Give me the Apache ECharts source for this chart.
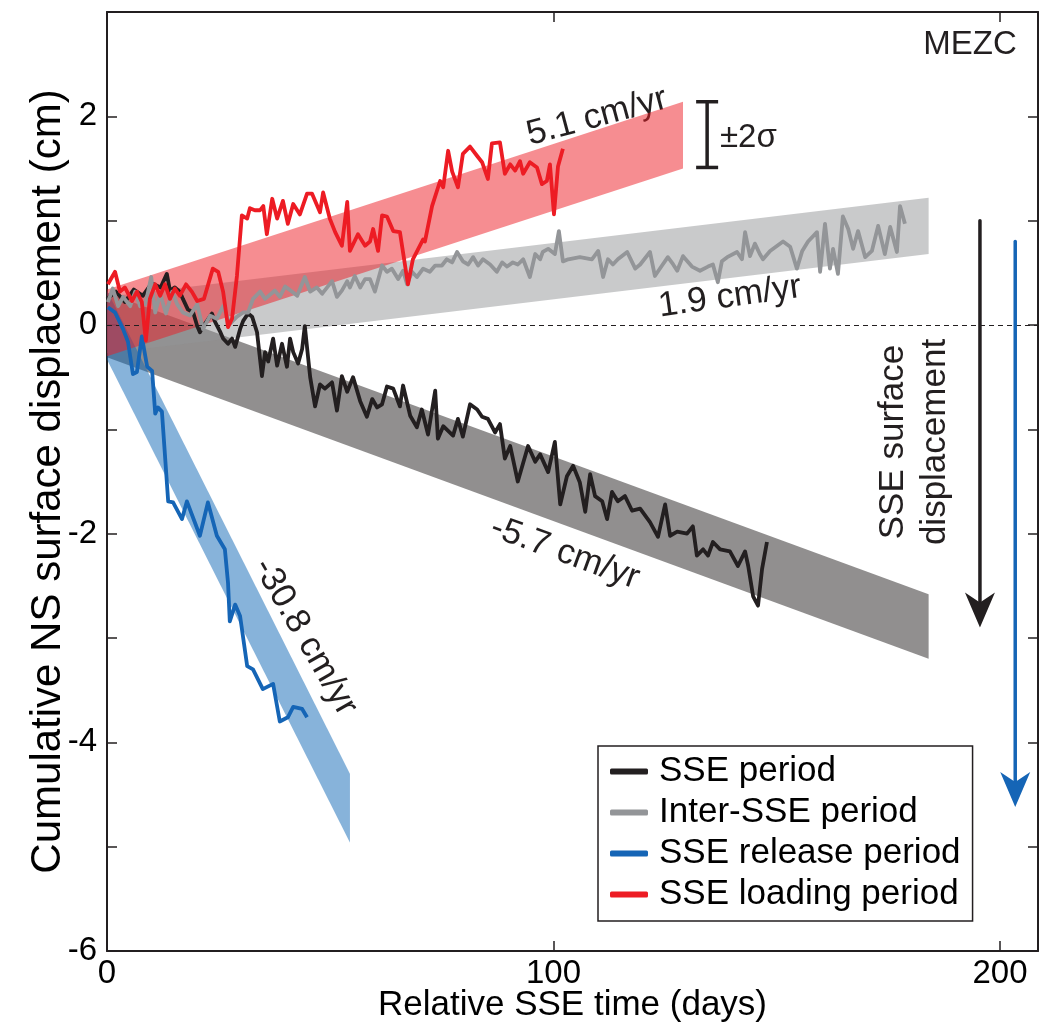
<!DOCTYPE html>
<html>
<head>
<meta charset="utf-8">
<script src="https://cdn.jsdelivr.net/npm/echarts@6/dist/echarts.min.js"></script>
<style>
  html, body { margin: 0; background: #fff; }
  #chart { width: 1039px; height: 1023px; }
</style>
</head>
<body>
<div id="chart"></div>
<script>
// SSE period (black)
const sseDays = [0, 2, 4, 6, 8, 10, 12,
  13.4, 14.1, 15.2, 16.3, 17.0, 18.1, 19.3, 20.2, 20.8, 21.5,
  22.4, 23.5, 24.2, 25.3, 26.0, 27.1, 28.0, 28.7, 29.8, 30.5,
  31.6, 32.5, 33.6, 34.7, 35.4, 36.1, 37.2, 38.1, 39.2, 40.3,
  41.0, 41.7, 42.8, 43.7, 44.3, 45.5, 46.6, 47.7, 48.8, 50.4,
  51.5, 52.6, 53.8, 55.1, 56.7, 58.2, 59.4, 60.5, 61.6, 62.7,
  64.1, 65.6, 66.3, 67.9, 69.4, 70.5, 71.9, 73.5, 74.1, 75.3,
  77.5, 78.6, 79.7, 81.3, 82.9, 84.0, 85.3, 86.9, 88.0, 89.1,
  90.3, 92.0, 94.3, 95.9, 97.0, 98.8, 100.3, 101.5, 103.0, 104.4,
  105.9, 107.1, 108.2, 109.3, 110.9, 112.0, 113.1, 114.4, 116.0, 117.6,
  119.4, 121.6, 123.4, 125.0, 126.1, 127.7, 129.9, 131.2, 132.1, 133.5,
  134.6, 135.7, 137.3, 139.5, 141.3, 142.9, 143.6, 144.7, 145.8, 146.7,
  147.8];
const sseCm = [0.25, 0.32, 0.22, 0.34, 0.28, 0.40, 0.36,
  0.49, 0.33, 0.36, 0.32, 0.25, 0.15, 0.12, -0.01, -0.07, -0.01,
  0.04, 0.11, 0.03, -0.06, -0.13, -0.18, -0.13, -0.21, -0.04, 0.04,
  0.11, 0.08, -0.07, -0.49, -0.26, -0.35, -0.13, -0.39, -0.18, -0.40,
  -0.13, -0.26, -0.37, -0.23, -0.01, -0.50, -0.78, -0.57, -0.61, -0.55,
  -0.82, -0.49, -0.64, -0.50, -0.73, -0.88, -0.71, -0.79, -0.76, -0.59,
  -0.61, -0.78, -0.58, -0.87, -0.98, -0.81, -1.05, -0.63, -1.09, -0.97,
  -1.06, -0.90, -1.07, -0.76, -0.81, -0.88, -0.90, -1.03, -0.95, -1.28,
  -1.16, -1.50, -1.16, -1.31, -1.24, -1.41, -1.12, -1.72, -1.45, -1.35,
  -1.51, -1.79, -1.43, -1.64, -1.69, -1.86, -1.60, -1.69, -1.64, -1.78,
  -1.76, -1.89, -2.03, -1.72, -2.02, -1.98, -2.00, -1.93, -2.21, -2.15,
  -2.21, -2.08, -2.15, -2.17, -2.31, -2.17, -2.31, -2.60, -2.69, -2.34,
  -2.08];

// Inter-SSE period (grey)
const interDays = [0.2, 1.3, 2.5, 3.6, 5.2, 6.3, 7.4, 8.6, 9.9, 10.8,
  11.9, 13.2, 14.6, 15.7, 17.0, 18.6, 20.2, 21.5, 23.1, 24.6,
  26.0, 27.5, 29.1, 30.5, 31.6, 32.7, 34.3, 35.4, 37.6, 38.7,
  39.9, 41.4, 42.6, 44.3, 45.5, 47.0, 48.2, 50.4, 51.5, 52.6,
  53.8, 54.4, 55.5, 56.7, 57.8, 58.9, 60.0, 61.6, 62.7, 63.8,
  65.2, 66.3, 67.2, 68.3, 69.4, 70.8, 72.3, 73.5, 75.0, 76.1,
  77.3, 78.4, 79.7, 80.9, 82.0, 83.1, 84.2, 85.8, 87.3, 88.5,
  89.6, 90.9, 92.0, 93.2, 94.7, 95.9, 97.0, 97.6, 98.8, 100.3,
  101.2, 102.1, 103.3, 105.9, 108.6, 110.0, 111.1, 112.2, 113.3, 114.4,
  116.5, 118.3, 119.4, 121.6, 122.7, 124.3, 125.6, 126.8, 127.7, 129.0,
  131.0, 132.8, 134.6, 135.7, 136.8, 137.7, 138.9, 141.1, 142.2, 142.9,
  144.0, 145.1, 146.2, 146.9, 148.5, 150.1, 151.4, 153.0, 154.5, 155.7,
  157.0, 159.0, 159.7, 160.8, 161.9, 162.6, 163.7, 164.8, 166.0, 167.1,
  168.2, 169.8, 171.3, 172.7, 174.2, 175.4, 176.9, 177.6, 178.7];
const interCm = [0.22, 0.35, 0.18, 0.27, 0.18, 0.32, 0.18, 0.20, 0.46, 0.12,
  0.30, 0.11, 0.32, 0.20, 0.12, 0.09, 0.20, -0.04, 0.09, 0.06,
  0.18, 0.01, 0.08, 0.12, 0.12, 0.25, 0.32, 0.25, 0.33, 0.27,
  0.37, 0.32, 0.28, 0.46, 0.32, 0.36, 0.30, 0.42, 0.27, 0.33,
  0.42, 0.36, 0.47, 0.36, 0.44, 0.44, 0.32, 0.57, 0.51, 0.54,
  0.44, 0.52, 0.39, 0.51, 0.46, 0.54, 0.51, 0.57, 0.57, 0.63,
  0.60, 0.70, 0.61, 0.58, 0.65, 0.57, 0.63, 0.58, 0.51, 0.60,
  0.56, 0.60, 0.58, 0.63, 0.46, 0.68, 0.63, 0.70, 0.73, 0.68,
  0.90, 0.61, 0.63, 0.65, 0.63, 0.71, 0.46, 0.63, 0.58, 0.63,
  0.70, 0.54, 0.58, 0.70, 0.47, 0.57, 0.65, 0.58, 0.52, 0.66,
  0.56, 0.52, 0.56, 0.58, 0.41, 0.61, 0.65, 0.70, 0.63, 0.89,
  0.66, 0.78, 0.68, 0.63, 0.71, 0.76, 0.80, 0.75, 0.54, 0.71,
  0.80, 0.89, 0.51, 0.97, 0.54, 0.73, 0.49, 1.04, 0.92, 0.73,
  0.90, 0.65, 0.71, 0.95, 0.68, 0.94, 0.70, 1.14, 0.97];

// SSE release period (blue)
const releaseDays = [0.2, 1.8, 3.6, 4.7, 5.8, 6.7, 7.8, 9.0, 10.1, 10.8,
  11.4, 12.3, 13.0, 13.7, 14.8, 16.8, 17.9, 20.8, 22.6, 24.6,
  26.4, 27.1, 27.5, 28.7, 29.8, 31.4, 32.7, 34.9, 37.2, 38.7,
  40.5, 41.7, 43.7, 44.8];
const releaseCm = [0.17, 0.12, -0.04, -0.16, -0.47, -0.45, -0.11, -0.40, -0.44, -0.85,
  -0.79, -0.83, -1.26, -1.69, -1.70, -1.86, -1.69, -2.02, -1.70, -2.02,
  -2.15, -2.47, -2.84, -2.68, -2.79, -3.27, -3.30, -3.49, -3.44, -3.80,
  -3.76, -3.66, -3.68, -3.76];

// SSE loading period (red)
const loadingDays = [0.2, 1.8, 2.9, 4.0, 5.6, 6.7, 7.8, 8.7, 9.6, 10.8,
  11.9, 13.0, 14.1, 15.2, 16.3, 17.7, 19.0, 20.2, 21.7, 23.7,
  24.9, 26.0, 27.1, 28.0, 29.1, 30.2, 31.4, 32.0, 33.1, 34.3,
  35.0, 35.8, 37.0, 38.1, 39.4, 40.5, 41.7, 43.2, 44.8, 45.9,
  47.7, 48.4, 49.9, 51.1, 52.6, 53.8, 54.4, 56.2, 57.8, 58.9,
  59.6, 60.7, 61.6, 62.7, 64.1, 65.6, 67.4, 68.5, 70.8, 71.2,
  72.8, 74.6, 75.3, 76.4, 77.3, 78.6, 79.7, 81.3, 82.9, 84.0,
  85.3, 86.2, 88.0, 89.1, 90.3, 91.4, 92.5, 93.2, 94.7, 96.3,
  97.4, 98.5, 99.2, 100.1, 101.0, 102.1];
const loadingCm = [0.39, 0.51, 0.32, 0.36, 0.23, 0.32, 0.22, -0.15, 0.25, 0.39,
  0.28, 0.39, 0.25, 0.35, 0.28, 0.39, 0.32, 0.23, 0.25, 0.54,
  0.51, 0.32, -0.02, 0.06, 0.47, 1.05, 1.02, 1.12, 1.10, 1.10,
  1.14, 0.87, 1.21, 1.02, 1.19, 0.97, 1.16, 1.06, 1.26, 1.26,
  1.08, 1.27, 1.02, 0.89, 0.76, 1.18, 0.71, 0.87, 0.76, 0.80,
  0.92, 0.71, 1.05, 1.04, 0.90, 0.89, 0.39, 0.63, 0.82, 0.80,
  1.14, 1.38, 1.32, 1.67, 1.47, 1.32, 1.64, 1.71, 1.62, 1.56,
  1.40, 1.74, 1.75, 1.45, 1.54, 1.48, 1.57, 1.45, 1.56, 1.51,
  1.35, 1.38, 1.54, 1.06, 1.52, 1.69];

// ±2σ rate bands: SSE, inter-SSE, release, loading
const bandStartDay = [0, 0, 0, 0];
const bandLowStart = [-0.31, -0.27, -0.33, -0.30];
const bandHighStart = [0.31, 0.27, 0.33, 0.34];
const bandEndDay = [184, 184, 54.4, 129];
const bandLowEnd = [-3.20, 0.68, -4.96, 1.50];
const bandHighEnd = [-2.58, 1.22, -4.30, 2.14];

// ±2σ scale bar
const sigmaDay = [134.4];
const sigmaLow = [1.51];
const sigmaHigh = [2.14];

// SSE surface displacement arrows (black, blue)
const arrowDay = [195.5, 203.4];
const arrowFrom = [1.0, 0.80];
const arrowTo = [-2.90, -4.62];

const yTicks = [-6, -4, -2, 0, 2];
const xTicks = [0, 100, 200];

const FONT = 'Liberation Sans, Arial, Helvetica, sans-serif';
const INK = '#231f20';
const BLUE = '#1565b6';
const bandColors = ['rgba(35,31,32,0.5)', 'rgba(147,149,152,0.5)',
  'rgba(16,103,182,0.5)', 'rgba(237,28,36,0.5)'];
const arrowColors = [INK, BLUE];

const pairs = (xs, ys) => xs.map((x, i) => [x, ys[i]]);

const myChart = echarts.init(document.getElementById('chart'));

const axisLineStyle = { color: INK, width: 2 };
const tickStyle = { inside: true, length: 10, lineStyle: { color: INK, width: 1.5 } };
const xCommon = { type: 'value', min: 0, max: 208.5, interval: 100, splitLine: { show: false } };
const yCommon = { type: 'value', min: -6, max: 3, interval: 1, splitLine: { show: false } };

const lineSeries = (name, color, xs, ys, z) => ({
  name: name,
  type: 'line',
  data: pairs(xs, ys),
  color: color,
  showSymbol: false,
  symbol: 'none',
  lineStyle: { width: 3.8, color: color, join: 'round' },
  z: z,
  silent: true
});

let option = {
  animation: false,
  textStyle: { fontFamily: FONT },
  grid: { left: 107, right: 1, top: 12, bottom: 72, outerBoundsMode: 'none', containLabel: false },
  xAxis: [
    Object.assign({}, xCommon, {
      position: 'bottom',
      axisLine: { onZero: false, lineStyle: axisLineStyle },
      axisTick: tickStyle,
      axisLabel: {
        fontSize: 33, color: '#000', margin: 6, fontFamily: FONT,
        formatter: v => xTicks.indexOf(v) >= 0 ? String(v) : ''
      },
      name: 'Relative SSE time (days)',
      nameLocation: 'middle',
      nameGap: 37,
      nameMoveOverlap: false,
      nameTextStyle: { fontSize: 35, color: '#000', fontFamily: FONT }
    }),
    Object.assign({}, xCommon, {
      position: 'top',
      axisLine: { onZero: false, lineStyle: axisLineStyle },
      axisTick: tickStyle,
      axisLabel: { show: false }
    })
  ],
  yAxis: [
    Object.assign({}, yCommon, {
      position: 'left',
      axisLine: { show: true, onZero: false, lineStyle: axisLineStyle },
      axisTick: Object.assign({ show: true }, tickStyle),
      axisLabel: {
        fontSize: 33, color: '#000', margin: 10, fontFamily: FONT,
        formatter: v => yTicks.indexOf(v) >= 0 ? String(v) : ''
      },
      name: 'Cumulative NS surface displacement (cm)',
      nameLocation: 'middle',
      nameGap: 38,
      nameMoveOverlap: false,
      nameTextStyle: { fontSize: 42, color: '#000', fontFamily: FONT }
    }),
    Object.assign({}, yCommon, {
      position: 'right',
      axisLine: { show: true, onZero: false, lineStyle: axisLineStyle },
      axisTick: Object.assign({ show: true }, tickStyle),
      axisLabel: { show: false }
    })
  ],
  legend: {
    orient: 'vertical',
    left: 598,
    top: 746,
    data: ['SSE period', 'Inter-SSE period', 'SSE release period', 'SSE loading period'],
    icon: 'roundRect',
    itemWidth: 38,
    itemHeight: 6,
    itemGap: 6,
    padding: [8, 12, 9, 12],
    borderColor: INK,
    borderWidth: 1.5,
    backgroundColor: '#fff',
    selectedMode: false,
    textStyle: { fontSize: 35, color: '#000', fontFamily: FONT, lineHeight: 34, padding: [0, 0, 0, 6] }
  },
  series: [
    {
      name: 'bands',
      type: 'custom',
      silent: true,
      z: 1,
      data: bandEndDay.map((d, i) => [bandStartDay[i], bandLowStart[i], bandHighStart[i], d, bandLowEnd[i], bandHighEnd[i]]),
      encode: { x: [0, 3], y: [1, 2, 4, 5] },
      renderItem: (params, api) => {
        const a = api.coord([api.value(0), api.value(1)]);
        const b = api.coord([api.value(3), api.value(4)]);
        const c = api.coord([api.value(3), api.value(5)]);
        const d = api.coord([api.value(0), api.value(2)]);
        return {
          type: 'polygon',
          shape: { points: [a, b, c, d] },
          style: { fill: bandColors[params.dataIndex], stroke: null }
        };
      }
    },
    Object.assign(lineSeries('SSE period', INK, sseDays, sseCm, 3), {
      markLine: {
        silent: true,
        symbol: 'none',
        label: { show: false },
        lineStyle: { type: [5, 4], color: INK, width: 1 },
        data: [{ yAxis: 0 }]
      }
    }),
    lineSeries('Inter-SSE period', '#939598', interDays, interCm, 4),
    lineSeries('SSE release period', BLUE, releaseDays, releaseCm, 5),
    lineSeries('SSE loading period', '#ed1c24', loadingDays, loadingCm, 6),
    {
      name: 'sigma',
      type: 'custom',
      silent: true,
      z: 7,
      data: sigmaDay.map((d, i) => [d, sigmaLow[i], sigmaHigh[i]]),
      renderItem: (params, api) => {
        const lo = api.coord([api.value(0), api.value(1)]);
        const hi = api.coord([api.value(0), api.value(2)]);
        const style = { stroke: INK, lineWidth: 3.5 };
        return {
          type: 'group',
          children: [
            { type: 'line', shape: { x1: lo[0], y1: lo[1], x2: hi[0], y2: hi[1] }, style: style },
            { type: 'line', shape: { x1: lo[0] - 11, y1: lo[1], x2: lo[0] + 11, y2: lo[1] }, style: style },
            { type: 'line', shape: { x1: hi[0] - 11, y1: hi[1], x2: hi[0] + 11, y2: hi[1] }, style: style }
          ]
        };
      }
    },
    {
      name: 'arrows',
      type: 'custom',
      silent: true,
      z: 7,
      data: arrowDay.map((d, i) => [d, arrowFrom[i], arrowTo[i]]),
      renderItem: (params, api) => {
        const top = api.coord([api.value(0), api.value(1)]);
        const tip = api.coord([api.value(0), api.value(2)]);
        const color = arrowColors[params.dataIndex];
        const x = tip[0], y = tip[1];
        return {
          type: 'group',
          children: [
            { type: 'line', shape: { x1: top[0], y1: top[1], x2: x, y2: y - 22 },
              style: { stroke: color, lineWidth: 3.5, lineCap: 'round' } },
            { type: 'polygon', shape: { points: [[x, y], [x - 15, y - 35], [x, y - 25], [x + 15, y - 35]] },
              style: { fill: color } }
          ]
        };
      }
    }
  ],
  graphic: [
    { type: 'text', x: 970, y: 45, style: { text: 'MEZC', fontSize: 33, fontFamily: FONT, fill: INK, align: 'center', verticalAlign: 'middle' } },
    { type: 'text', x: 597, y: 117, rotation: 15 * Math.PI / 180, style: { text: '5.1 cm/yr', fontSize: 35, fontFamily: FONT, fill: INK, align: 'center', verticalAlign: 'middle' } },
    { type: 'text', x: 730, y: 297, rotation: 8 * Math.PI / 180, style: { text: '1.9 cm/yr', fontSize: 35, fontFamily: FONT, fill: INK, align: 'center', verticalAlign: 'middle' } },
    { type: 'text', x: 565, y: 553, rotation: -20 * Math.PI / 180, style: { text: '-5.7 cm/yr', fontSize: 35, fontFamily: FONT, fill: INK, align: 'center', verticalAlign: 'middle' } },
    { type: 'text', x: 305, y: 637, rotation: -60 * Math.PI / 180, style: { text: '-30.8 cm/yr', fontSize: 35, fontFamily: FONT, fill: INK, align: 'center', verticalAlign: 'middle' } },
    { type: 'text', x: 720, y: 138, style: { text: '±2σ', fontSize: 33, fontFamily: FONT, fill: INK, align: 'left', verticalAlign: 'middle' } },
    { type: 'text', x: 893, y: 442, rotation: Math.PI / 2, style: { text: 'SSE surface', fontSize: 35, fontFamily: FONT, fill: INK, align: 'center', verticalAlign: 'middle' } },
    { type: 'text', x: 935, y: 442, rotation: Math.PI / 2, style: { text: 'displacement', fontSize: 35, fontFamily: FONT, fill: INK, align: 'center', verticalAlign: 'middle' } }
  ]
};

myChart.setOption(option);
</script>
</body>
</html>
